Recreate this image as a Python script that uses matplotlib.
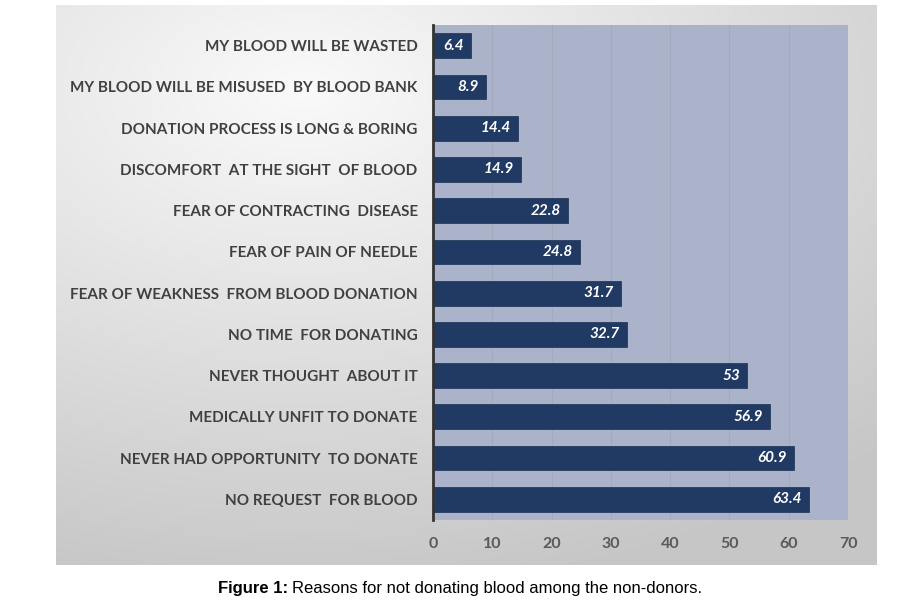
import numpy as np
import matplotlib.pyplot as plt

reasons = [
    "MY BLOOD WILL BE WASTED",
    "MY BLOOD WILL BE MISUSED  BY BLOOD BANK",
    "DONATION PROCESS IS LONG & BORING",
    "DISCOMFORT  AT THE SIGHT  OF BLOOD",
    "FEAR OF CONTRACTING  DISEASE",
    "FEAR OF PAIN OF NEEDLE",
    "FEAR OF WEAKNESS  FROM BLOOD DONATION",
    "NO TIME  FOR DONATING",
    "NEVER THOUGHT  ABOUT IT",
    "MEDICALLY UNFIT TO DONATE",
    "NEVER HAD OPPORTUNITY  TO DONATE",
    "NO REQUEST  FOR BLOOD",
]
percent = [6.4, 8.9, 14.4, 14.9, 22.8, 24.8, 31.7, 32.7, 53, 56.9, 60.9, 63.4]
xticks = [0, 10, 20, 30, 40, 50, 60, 70]

fig = plt.figure(figsize=(9.19, 6.01), dpi=100)
W, H = 919, 601

# gradient panel behind the chart
bg = fig.add_axes([56 / W, 1 - 565 / H, (876 - 56) / W, (565 - 5) / H])
yy, xx = np.mgrid[0:1:200j, 0:1:300j]
d = np.sqrt(((xx - 0.3) / 1.0) ** 2 + ((yy - 0.15) / 0.9) ** 2)
shade = np.clip(0.98 - 0.2 * d, 0.78, 0.98)
bg.imshow(np.dstack([shade, shade, shade]), aspect="auto", extent=[0, 1, 1, 0])
bg.set_axis_off()

ax = fig.add_axes([433 / W, 1 - 520 / H, (848 - 433) / W, (520 - 25) / H])
ax.set_facecolor("#abb3cb")
y = np.arange(len(reasons))
ax.barh(y, percent, height=0.6, color="#213a63", edgecolor="#1a2f52", lw=0.5, zorder=3)
for yi, v in zip(y, percent):
    ax.text(v - 1.2, yi, f"{v:g}", ha="right", va="center", color="white",
            fontsize=11, fontweight="bold", fontstyle="italic", family="Lato", zorder=4)

ax.set_xlim(0, 70)
ax.set_ylim(-0.5, len(reasons) - 0.5)
ax.invert_yaxis()
ax.set_xticks(xticks)
ax.set_xticklabels([str(t) for t in xticks], fontsize=11.5, fontweight="bold",
                   color="#5a5a5a", family="Lato")
ax.set_yticks(y)
ax.set_yticklabels(reasons, fontsize=11, fontweight="bold", color="#404040", family="Lato")
ax.tick_params(axis="y", length=0, pad=11)
ax.tick_params(axis="x", length=0, pad=12)
ax.grid(axis="x", color="#a2aac0", lw=0.8, zorder=1)
for s in ["top", "right", "bottom"]:
    ax.spines[s].set_visible(False)
ax.spines["left"].set_color("#333333")
ax.spines["left"].set_linewidth(2)
ax.spines["left"].set_zorder(5)

# caption: bold lead-in followed by regular text
cap_y = 1 - 588 / H
t1 = fig.text(218 / W, cap_y, "Figure 1:", ha="left", va="center", fontsize=12,
              fontweight="bold", family="Liberation Sans")
fig.canvas.draw()
bb = t1.get_window_extent()
fig.text((bb.x1 + 4) / W, cap_y, "Reasons for not donating blood among the non-donors.",
         ha="left", va="center", fontsize=12, family="Liberation Sans")

fig.savefig("out.png", dpi=100, facecolor="white")
